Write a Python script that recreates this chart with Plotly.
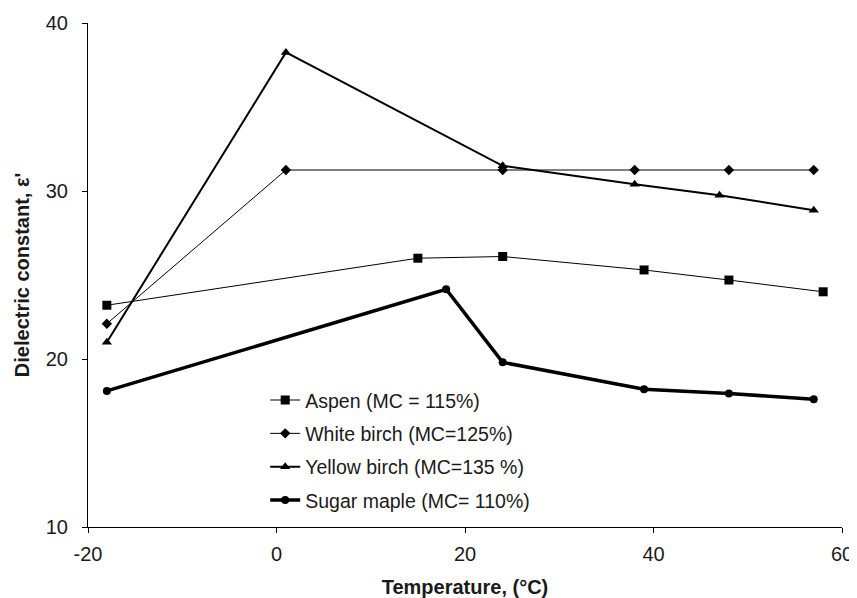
import plotly.graph_objects as go

aspen_t = [-18, 15, 24, 39, 48, 58]
aspen_e = [23.2, 26.0, 26.1, 25.3, 24.7, 24.0]

wbirch_t = [-18, 1, 24, 38, 48, 57]
wbirch_e = [22.1, 31.25, 31.25, 31.25, 31.25, 31.25]

ybirch_t = [-18, 1, 24, 38, 47, 57]
ybirch_e = [21.0, 38.25, 31.5, 30.4, 29.75, 28.85]

maple_t = [-18, 18, 24, 39, 48, 57]
maple_e = [18.1, 24.15, 19.8, 18.2, 17.95, 17.6]

names = ["Aspen (MC = 115%)", "White birch (MC=125%)",
         "Yellow birch (MC=135 %)", "Sugar maple (MC= 110%)"]

x_ticks = [-20, 0, 20, 40, 60]
x_labels = ["-20", "0", "20", "40", "60"]
y_ticks = [10, 20, 30, 40]
y_labels = ["10", "20", "30", "40"]

series = [
    (aspen_t, aspen_e, "square", 9, 1.0),
    (wbirch_t, wbirch_e, "diamond", 8, 1.0),
    (ybirch_t, ybirch_e, "triangle-up", 9, 2.0),
    (maple_t, maple_e, "circle", 8, 3.5),
]

fig = go.Figure()
for i, (t, e, sym, ms, lw) in enumerate(series):
    fig.add_trace(go.Scatter(
        x=t, y=e, mode="lines+markers", name=names[i], legendgroup=str(i),
        line=dict(color="black", width=lw),
        marker=dict(symbol=sym, size=ms, color="black"),
    ))

# page body has an 8px default margin, so the figure is sized/positioned to compensate
fig.update_layout(
    width=849, height=590,
    margin=dict(l=80, r=15, t=15, b=71),
    plot_bgcolor="white", paper_bgcolor="white",
    font=dict(family="Arial, Liberation Sans, sans-serif", color="#1a1a1a"),
    showlegend=True,
    legend=dict(
        x=0.235, y=0.29, xanchor="left", yanchor="top",
        bgcolor="rgba(0,0,0,0)", font=dict(size=19.5, color="#1a1a1a"),
        tracegroupgap=5, itemwidth=30,
    ),
    xaxis=dict(
        range=[-20, 60], tickvals=x_ticks, ticktext=x_labels,
        ticks="outside", ticklen=5, tickcolor="black",
        showline=True, linecolor="black", linewidth=1, showgrid=False, zeroline=False,
        tickfont=dict(size=20), automargin=False, ticklabelstandoff=4,
        title=dict(text="<b>Temperature, (°C)</b>", font=dict(size=20), standoff=18),
    ),
    yaxis=dict(
        range=[10, 40], tickvals=y_ticks, ticktext=y_labels,
        ticks="outside", ticklen=5, tickcolor="black",
        showline=True, linecolor="black", linewidth=1, showgrid=False, zeroline=False,
        tickfont=dict(size=20), automargin=False, ticklabelstandoff=10,
        title=dict(text="<b>Dielectric constant, ε'</b>", font=dict(size=20), standoff=10),
    ),
)

fig.write_html("out.html")
